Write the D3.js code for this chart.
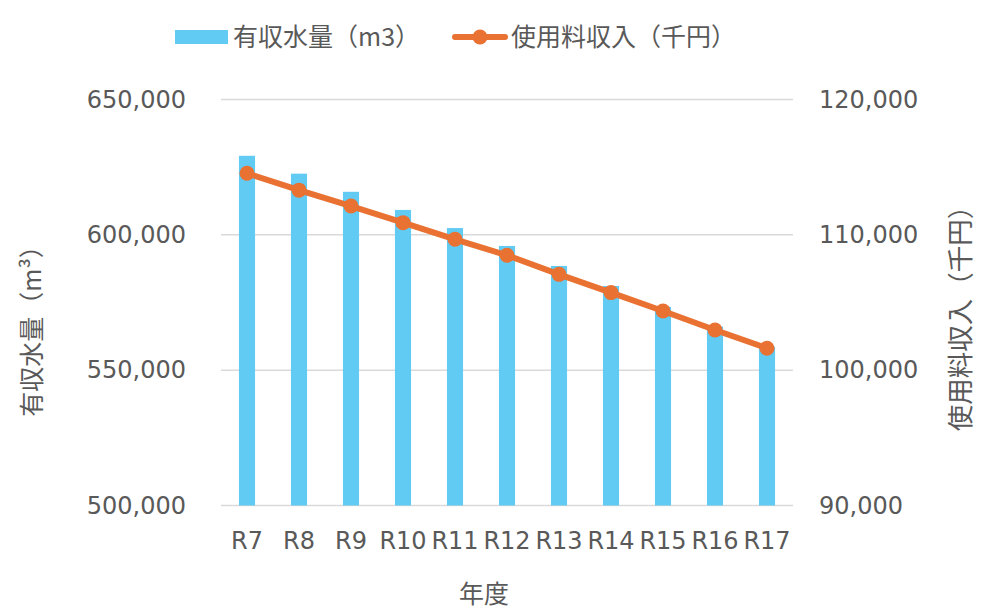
<!DOCTYPE html>
<html>
<head>
<meta charset="utf-8">
<script src="https://cdn.jsdelivr.net/npm/d3@7"></script>
<style>
  html, body { margin: 0; padding: 0; background: #fff; }
  svg { display: block; }
  text { font-family: "DejaVu Sans", "Noto Sans CJK JP", sans-serif; fill: #595959; }
</style>
</head>
<body>
<svg id="chart" width="995" height="612"></svg>
<script>
// 年度ごとの有収水量と使用料収入
const years = ["R7", "R8", "R9", "R10", "R11", "R12", "R13", "R14", "R15", "R16", "R17"];
const volume = [629200, 622600, 615900, 609200, 602500, 595900, 588500, 581100, 573400, 566100, 558700];
const revenue = [114550, 113300, 112130, 110900, 109670, 108490, 107080, 105730, 104370, 102970, 101620];
const leftTicks = [500000, 550000, 600000, 650000];
const rightTicks = [90000, 100000, 110000, 120000];

const svg = d3.select("#chart");
const plot = { left: 221, right: 793, top: 99.5, bottom: 505.5 };
const latinFont = '"DejaVu Sans", "Noto Sans CJK JP", sans-serif';

const x = d3.scaleBand().domain(years).range([plot.left, plot.right])
  .paddingInner(0.69).paddingOuter(0.345);
const yL = d3.scaleLinear().domain([500000, 650000]).range([plot.bottom, plot.top]);
const yR = d3.scaleLinear().domain([90000, 120000]).range([plot.bottom, plot.top]);
const fmt = d3.format(",");

// 目盛線
svg.append("g").selectAll("line").data(leftTicks).join("line")
  .attr("x1", plot.left).attr("x2", plot.right)
  .attr("y1", d => yL(d)).attr("y2", d => yL(d))
  .attr("stroke", "#d9d9d9").attr("stroke-width", 1.5);

function styleAxis(g) {
  g.select(".domain").remove();
  g.selectAll("text").attr("font-size", 24).style("fill", "#595959")
    .style("font-family", latinFont);
}

// 左軸
svg.append("g").attr("transform", `translate(${plot.left},0)`)
  .call(d3.axisLeft(yL).tickValues(leftTicks).tickFormat(fmt).tickSize(0).tickPadding(35))
  .call(styleAxis);

// 右軸
svg.append("g").attr("transform", `translate(${plot.right},0)`)
  .call(d3.axisRight(yR).tickValues(rightTicks).tickFormat(fmt).tickSize(0).tickPadding(26))
  .call(styleAxis);

// 横軸
svg.append("g").attr("transform", `translate(0,${plot.bottom})`)
  .call(d3.axisBottom(x).tickSize(0).tickPadding(26))
  .call(styleAxis);

// 棒（有収水量）
svg.append("g").selectAll("rect").data(years).join("rect")
  .attr("x", d => x(d))
  .attr("width", x.bandwidth())
  .attr("y", (d, i) => yL(volume[i]))
  .attr("height", (d, i) => plot.bottom - yL(volume[i]))
  .attr("fill", "#61CBF4");

// 折れ線（使用料収入）
const cx = d => x(d) + x.bandwidth() / 2;
const line = d3.line().x(d => cx(d.year)).y(d => yR(d.value));
const pts = years.map((y, i) => ({ year: y, value: revenue[i] }));
svg.append("path").datum(pts).attr("d", line)
  .attr("fill", "none").attr("stroke", "#E97132").attr("stroke-width", 6)
  .attr("stroke-linejoin", "round");
svg.append("g").selectAll("circle").data(pts).join("circle")
  .attr("cx", d => cx(d.year)).attr("cy", d => yR(d.value))
  .attr("r", 7.5).attr("fill", "#E97132");

// 軸タイトル
svg.append("text").attr("x", 484).attr("y", 603).attr("text-anchor", "middle")
  .attr("font-size", 25).style("font-family", '"Noto Sans CJK JP", sans-serif').text("年度");
svg.append("text").attr("transform", "translate(41,325) rotate(-90)")
  .attr("text-anchor", "middle").attr("font-size", 25)
  .style("font-family", '"Noto Sans CJK JP", sans-serif')
  .text("有収水量（m³）");
svg.append("text").attr("transform", "translate(970,312) rotate(-90)")
  .attr("text-anchor", "middle").attr("font-size", 26.5)
  .style("font-family", '"Noto Sans CJK JP", sans-serif')
  .text("使用料収入（千円）");

// 凡例
const lg = svg.append("g");
lg.append("rect").attr("x", 175).attr("y", 30).attr("width", 53).attr("height", 14).attr("fill", "#61CBF4");
lg.append("text").attr("x", 233).attr("y", 46).attr("font-size", 25)
  .style("font-family", '"Noto Sans CJK JP", sans-serif').text("有収水量（m3）");
lg.append("line").attr("x1", 455).attr("x2", 505).attr("y1", 37).attr("y2", 37)
  .attr("stroke", "#E97132").attr("stroke-width", 6).attr("stroke-linecap", "round");
lg.append("circle").attr("cx", 480).attr("cy", 37).attr("r", 7.5).attr("fill", "#E97132");
lg.append("text").attr("x", 511).attr("y", 46).attr("font-size", 25)
  .style("font-family", '"Noto Sans CJK JP", sans-serif').text("使用料収入（千円）");
</script>
</body>
</html>
